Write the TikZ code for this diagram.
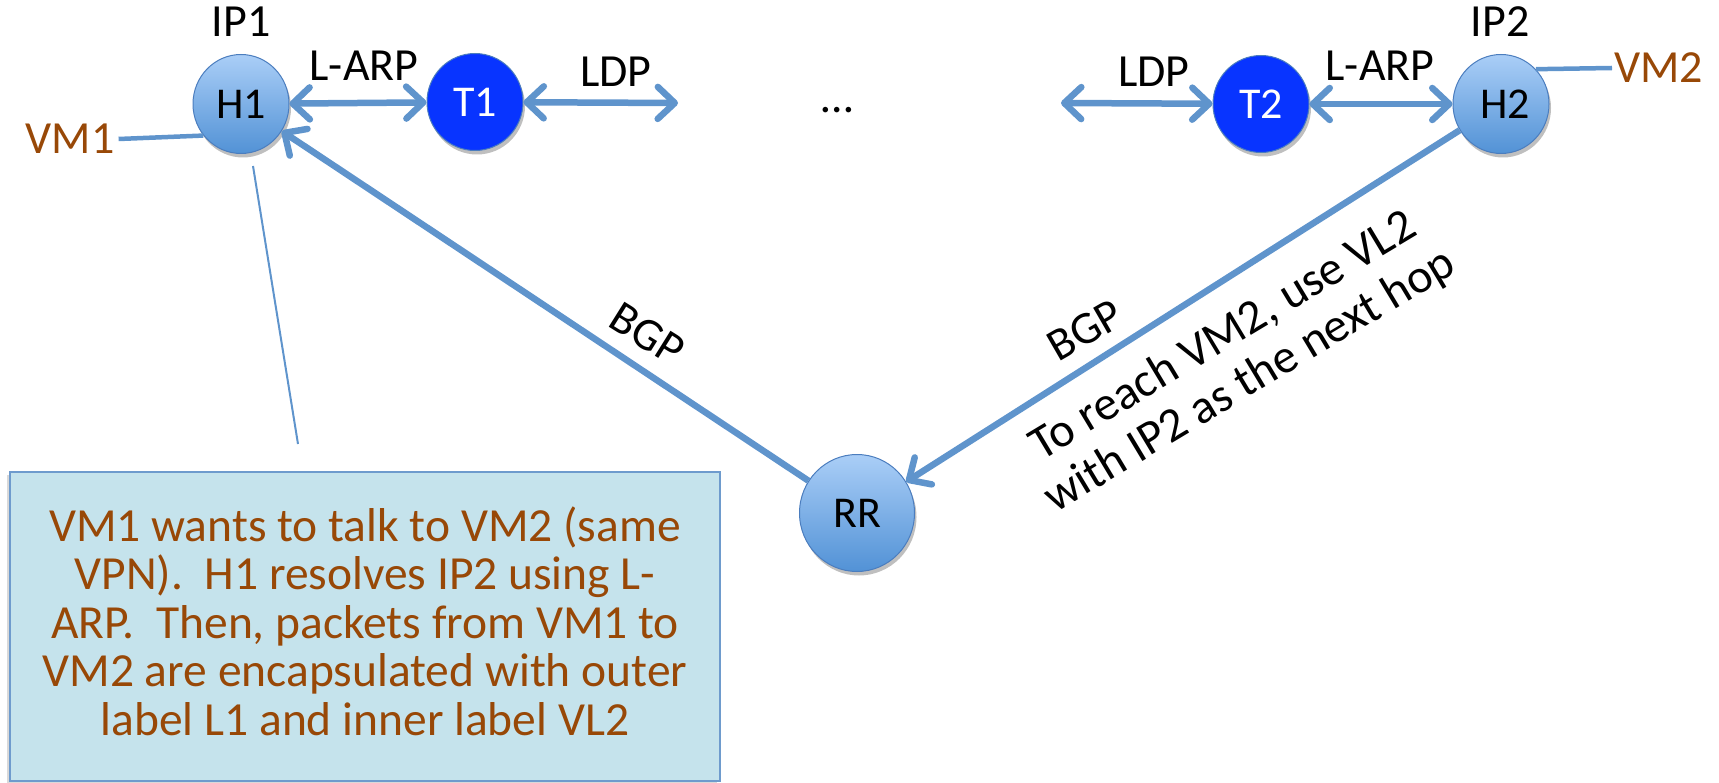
\documentclass[tikz,border=0pt]{standalone}
\usepackage{fontspec}
\setmainfont{Carlito}
\usetikzlibrary{arrows.meta,shadows,shapes.geometric}

\definecolor{lineblue}{RGB}{95,148,204}
\definecolor{vmbrown}{RGB}{152,72,7}
\definecolor{tblue}{RGB}{8,52,255}
\definecolor{boxfill}{RGB}{197,227,236}
\definecolor{boxline}{RGB}{110,155,205}
\definecolor{htop}{RGB}{170,206,247}
\definecolor{hbot}{RGB}{82,146,214}
\definecolor{hborder}{RGB}{75,125,190}

\tikzset{
  >={Straight Barb[length=17pt,width=32pt,round]},
  shadowed/.style={drop shadow={shadow xshift=2pt,shadow yshift=-4pt,opacity=0.25,fill=black}},
  hnode/.style={ellipse,minimum width=96pt,minimum height=99pt,inner sep=0pt,
    top color=htop,bottom color=hbot,draw=hborder,line width=1pt,
    font=\fontsize{44}{50}\selectfont,shadowed},
  tnode/.style={ellipse,minimum width=96pt,minimum height=97pt,inner sep=0pt,
    fill=tblue,draw=hborder,line width=1pt,text=white,
    font=\fontsize{44}{50}\selectfont,shadowed},
  lbl/.style={font=\fontsize{46}{55}\selectfont,inner sep=0pt},
  vmlbl/.style={lbl,text=vmbrown},
  conn/.style={draw=lineblue,line width=6.5pt},
  vmline/.style={draw=lineblue,line width=4.5pt},
  thinline/.style={draw=lineblue,line width=2pt},
  notebox/.style={draw=boxline,line width=1.5pt,fill=boxfill,inner sep=0pt,
    drop shadow={shadow xshift=-3pt,shadow yshift=-3pt,opacity=0.15,fill=black}},
  notetxt/.style={text=vmbrown,align=center,inner sep=0pt,font=\fontsize{47.5}{48.5}\selectfont},
}

\begin{document}
\begin{tikzpicture}[x=1pt,y=-1pt]
\useasboundingbox (0,0) rectangle (1719,783);

% note box
\node[notebox,anchor=north west,minimum width=710pt,minimum height=309pt] (note) at (9,471) {};
\node[notetxt] (notetext) at (365,621) {VM1 wants to talk to VM2 (same\\VPN).\ \ H1 resolves IP2 using L-\\ARP.\ \ Then, packets from VM1 to\\VM2 are encapsulated with outer\\label L1 and inner label VL2};

% nodes
\node[hnode] (H1) at (241,104) {H1};
\node[tnode] (T1) at (475,102) {T1};
\node[tnode] (T2) at (1261,104) {T2};
\node[hnode] (H2) at (1501,104) {\raisebox{-5pt}{\hspace{8pt}H2}};
\node[hnode,minimum width=115pt,minimum height=117pt] (RR) at (857,513) {RR};

% labels
\node[lbl] (ip1) at (241,22) {IP1};
\node[lbl] (ip2) at (1500,22) {IP2};
\node[lbl] (larp1) at (364,66) {L-ARP};
\node[lbl] (larp2) at (1380,66) {L-ARP};
\node[lbl] (ldp1) at (616,72) {LDP};
\node[lbl] (ldp2) at (1154,72) {LDP};
\node[lbl] (dots) at (837,110) {…};
\node[vmlbl] (VM1) at (70,139) {VM1};
\node[vmlbl,anchor=west] (VM2) at (1614,68) {VM2};

% free ends
\coordinate (ldpL) at (678,103);
\coordinate (ldpR) at (1061,103);
\coordinate (calloutA) at (253,166);
\coordinate (calloutB) at (298,444);

% connectors
\draw[conn,<->] (H1) -- (T1);
\draw[conn,<->] (T1) -- (ldpL);
\draw[conn,<->] (ldpR) -- (T2);
\draw[conn,<->] (T2) -- (H2);
\draw[conn,->] (RR) -- (H1);
\draw[conn,->] (H2) -- (RR);
\draw[vmline] (VM1.east) ++(4pt,0) -- (H1.220);
\draw[vmline] (H2.45) -- ([xshift=-2pt]VM2.west);
\draw[thinline] (calloutA) -- (calloutB);

% sloped labels
\node[lbl,rotate=-32] (bgp1) at (647,334) {BGP};
\node[lbl,rotate=30] (bgp2) at (1085,330) {BGP};
\node[lbl,rotate=31,align=center,font=\fontsize{48}{52}\selectfont] (hint) at (1237,359) {To reach VM2, use VL2\\with IP2 as the next hop};
\end{tikzpicture}
\end{document}
